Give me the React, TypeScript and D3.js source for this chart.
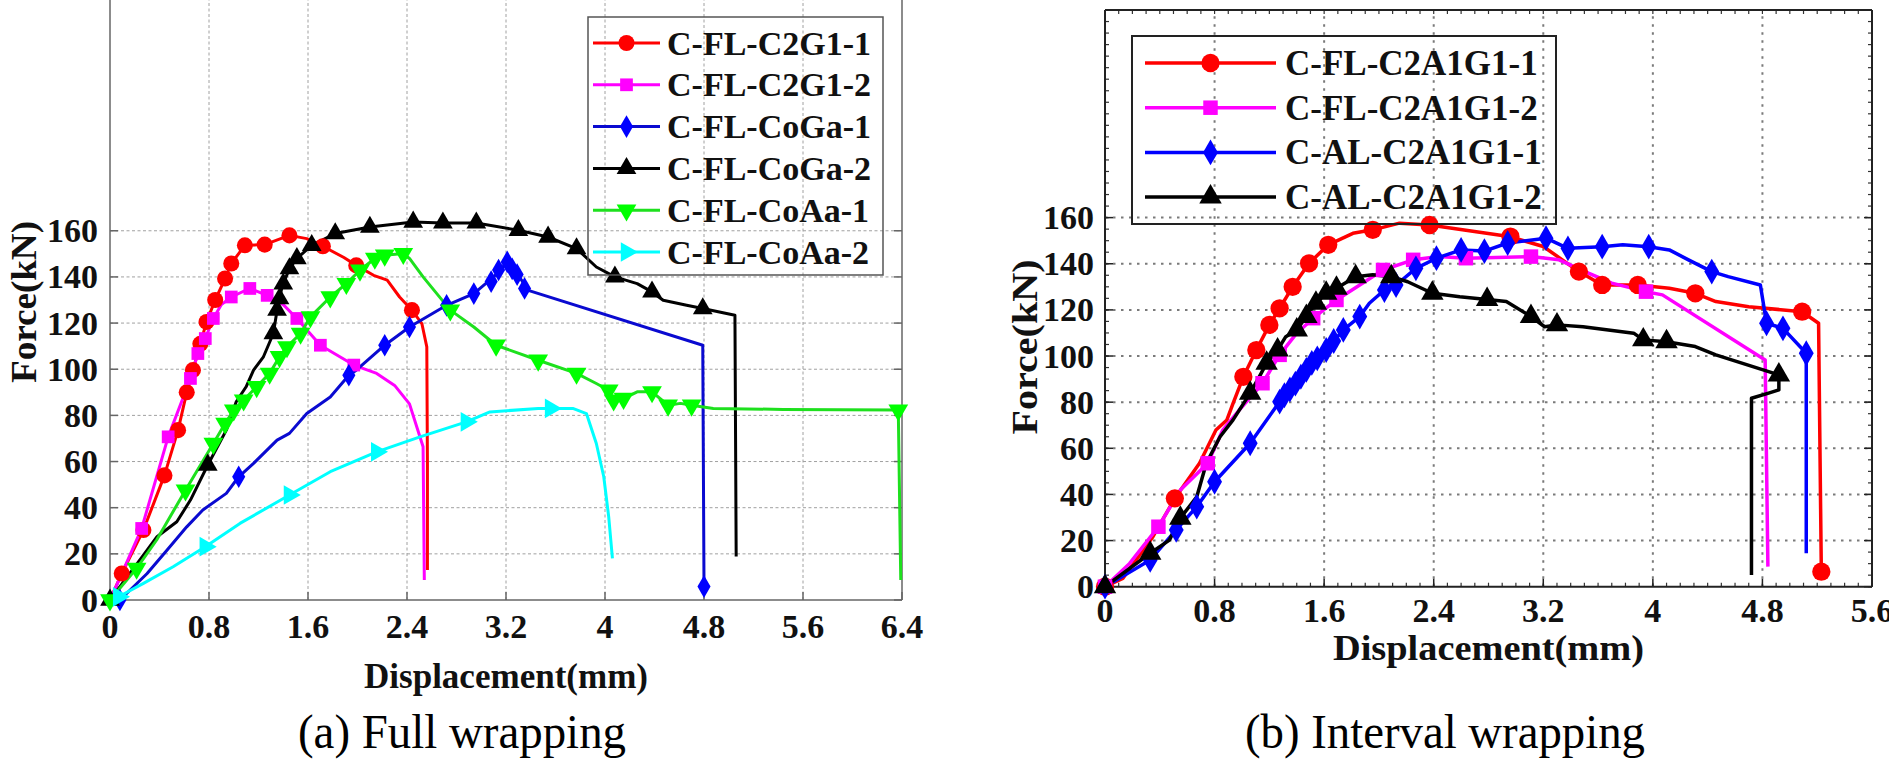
import React from 'react';
import * as d3 from 'd3';

type Pt = [number, number];

// ---------------- shared text ----------------
const xAxisLabel = 'Displacement(mm)';
const yAxisLabel = 'Force(kN)';
const yTickValues = [0, 20, 40, 60, 80, 100, 120, 140, 160];

// ---------------- panel (a) data ----------------
const titleA = '(a) Full wrapping';
const xTicksA = [0, 0.8, 1.6, 2.4, 3.2, 4, 4.8, 5.6, 6.4];
const namesA = ['C-FL-C2G1-1', 'C-FL-C2G1-2', 'C-FL-CoGa-1', 'C-FL-CoGa-2', 'C-FL-CoAa-1', 'C-FL-CoAa-2'];

const c2g1_1Line: Pt[] = [[0,0],[0.095,11.5],[0.27,30.3],[0.44,54],[0.55,73.6],[0.62,90],[0.67,99.6],[0.73,111],[0.78,120.5],[0.85,130],[0.93,139.3],[0.98,145.8],[1.09,153.7],[1.25,154],[1.45,158],[1.59,156.6],[1.72,153.3],[1.89,148.4],[1.99,145],[2.13,140.7],[2.24,138.6],[2.34,131.3],[2.44,125.6],[2.52,119.8],[2.56,109.7],[2.565,60],[2.565,13]];
const c2g1_1Marks: Pt[] = [[0.095,11.5],[0.27,30.3],[0.44,54],[0.55,73.6],[0.62,90],[0.67,99.6],[0.73,111],[0.78,120.5],[0.85,130],[0.93,139.3],[0.98,145.8],[1.09,153.7],[1.25,154],[1.45,158],[1.72,153.3],[1.99,145],[2.44,125.6]];

const c2g1_2Line: Pt[] = [[0,0],[0.1,12],[0.256,31],[0.47,70.7],[0.65,96],[0.71,106.8],[0.77,113.3],[0.835,122],[0.9,128],[0.98,131.3],[1.13,135],[1.27,132],[1.4,128],[1.51,122],[1.7,110.4],[1.97,101.8],[2.155,98.2],[2.3,93],[2.42,85],[2.53,66.4],[2.54,8.7]];
const c2g1_2Marks: Pt[] = [[0.256,31],[0.47,70.7],[0.65,96],[0.71,106.8],[0.77,113.3],[0.835,122],[0.98,131.3],[1.13,135],[1.27,132],[1.51,122],[1.7,110.4],[1.97,101.8]];

const coGa1Line: Pt[] = [[0.08,0],[0.3,11.5],[0.46,21.6],[0.62,31.7],[0.75,39],[0.94,46.2],[1.04,53.4],[1.16,59.2],[1.35,69.3],[1.45,72.2],[1.59,80.8],[1.78,88],[1.93,97.4],[1.99,99.6],[2.22,110.4],[2.42,118.3],[2.72,127.7],[2.94,132.8],[3.1,140],[3.21,146.5],[3.29,141.5],[3.38,134.2],[4.79,110.4],[4.8,5.8]];
const coGa1Marks: Pt[] = [[0.08,0],[1.04,53.4],[1.93,97.4],[2.22,110.4],[2.42,118.3],[2.72,127.7],[2.94,132.8],[3.08,138],[3.14,143],[3.21,146.5],[3.25,143.5],[3.29,141],[3.35,135],[4.8,5.8]];

const coGa2Line: Pt[] = [[0,0],[0.24,17.3],[0.38,27.4],[0.54,33.9],[0.65,43.3],[0.79,58.5],[0.94,73.6],[1.02,85.9],[1.1,92.4],[1.16,99.6],[1.24,105.4],[1.32,115.5],[1.35,125.6],[1.37,130.6],[1.39,135.7],[1.45,143.6],[1.51,148],[1.63,153.7],[1.82,158.8],[2.1,161.6],[2.45,163.8],[2.69,163.4],[2.96,163.4],[3.3,160.2],[3.54,157.3],[3.77,152.3],[3.93,144.3],[4.08,140],[4.26,137.1],[4.38,133.5],[4.47,129.9],[4.66,127.7],[4.79,126.3],[5.05,123.4],[5.06,18.8]];
const coGa2Marks: Pt[] = [[0,0],[0.79,58.5],[1.32,115.5],[1.35,125.6],[1.37,130.6],[1.4,137],[1.45,143.6],[1.51,148],[1.63,153.7],[1.82,158.8],[2.1,161.6],[2.45,163.8],[2.69,163.4],[2.96,163.4],[3.3,160.2],[3.54,157.3],[3.77,152.3],[4.08,140],[4.38,133.5],[4.79,126.3]];

const coAa1Line: Pt[] = [[0,0],[0.215,13.7],[0.377,26],[0.61,47.6],[0.835,67.8],[0.93,76.5],[1,82.3],[1.08,86.6],[1.185,92.4],[1.29,98.2],[1.37,105.4],[1.43,109.7],[1.54,115.5],[1.62,122.7],[1.78,131.3],[1.91,137.1],[2.02,142.9],[2.14,148],[2.22,149.4],[2.37,150.1],[2.42,148],[2.53,140],[2.75,125.6],[2.94,118.3],[3.12,110.4],[3.46,103.9],[3.77,98.2],[3.93,93.8],[4.03,90.9],[4.07,86.6],[4.15,87.3],[4.26,90.2],[4.38,90.2],[4.51,84.4],[4.61,85.2],[4.7,84.4],[4.875,83],[5.44,82.6],[6.37,82.3],[6.39,8.7]];
const coAa1Marks: Pt[] = [[0,0],[0.215,13.7],[0.61,47.6],[0.835,67.8],[0.93,76.5],[1,82.3],[1.08,86.6],[1.185,92.4],[1.29,98.2],[1.37,105.4],[1.43,109.7],[1.54,115.5],[1.62,122.7],[1.78,131.3],[1.91,137.1],[2.02,142.9],[2.14,148],[2.22,149.4],[2.37,150.1],[2.75,125.6],[3.12,110.4],[3.46,103.9],[3.77,98.2],[4.03,90.9],[4.07,86.6],[4.15,87.3],[4.38,90.2],[4.51,84.4],[4.7,84.4],[6.37,82.3]];

const coAa2Line: Pt[] = [[0,0],[0.07,1.4],[0.27,7.2],[0.51,14.4],[0.77,23.1],[1.05,33.2],[1.45,45.5],[1.78,55.6],[2.155,64.2],[2.505,70.7],[2.88,77.2],[3.07,81.5],[3.46,83],[3.56,83],[3.74,83],[3.85,80.8],[3.93,67.8],[3.99,53.4],[4.03,36],[4.06,18]];
const coAa2Marks: Pt[] = [[0.07,1.4],[0.77,23.1],[1.45,45.5],[2.155,64.2],[2.88,77.2],[3.56,83]];

// ---------------- panel (b) data ----------------
const titleB = '(b) Interval wrapping';
const xTicksB = [0, 0.8, 1.6, 2.4, 3.2, 4, 4.8, 5.6];
const namesB = ['C-FL-C2A1G1-1', 'C-FL-C2A1G1-2', 'C-AL-C2A1G1-1', 'C-AL-C2A1G1-2'];

const fl1Line: Pt[] = [[0,0],[0.13,3.6],[0.35,21.7],[0.51,38.3],[0.69,53.5],[0.81,67.9],[0.89,72.3],[0.935,79.5],[1.01,91],[1.105,102.6],[1.2,113.5],[1.275,120.7],[1.37,130],[1.49,140.2],[1.63,148.2],[1.81,153.2],[1.955,154.7],[2.15,157.6],[2.37,156.8],[2.95,151.8],[3.2,147.5],[3.46,136.6],[3.63,130.8],[3.89,130.8],[4.12,129.4],[4.31,127.2],[4.46,123.6],[4.7,121.4],[5.09,119.2],[5.21,114.2],[5.23,6.5]];
const fl1Marks: Pt[] = [[0,0],[0.51,38.3],[1.01,91],[1.105,102.6],[1.2,113.5],[1.275,120.7],[1.37,130],[1.49,140.2],[1.63,148.2],[1.955,154.7],[2.37,156.8],[2.96,151.8],[3.46,136.6],[3.63,130.8],[3.89,130.8],[4.31,127.2],[5.09,119.2],[5.23,6.5]];

const fl2Line: Pt[] = [[0,0],[0.18,10.1],[0.39,26],[0.55,41.9],[0.75,53.5],[0.86,67.9],[0.98,76.6],[1.15,88.2],[1.275,100.5],[1.4,109.9],[1.52,116.4],[1.69,124.3],[1.86,130.8],[2.03,137.3],[2.25,141.7],[2.44,143.1],[2.635,142.4],[3.11,143.1],[3.315,141.7],[3.53,135.9],[3.7,131.6],[3.95,127.9],[4.07,126.5],[4.82,98.3],[4.84,8.7]];
const fl2Marks: Pt[] = [[0,0],[0.39,26],[0.75,53.5],[1.15,88.2],[1.275,100.5],[1.52,116.4],[1.69,124.3],[2.03,137.3],[2.25,141.7],[2.635,142.4],[3.11,143.1],[3.95,127.9]];

const al1Line: Pt[] = [[0,0],[0.33,11.6],[0.52,24.6],[0.67,34.7],[0.8,45.5],[1.06,62.2],[1.275,80.2],[1.37,86.7],[1.49,95.4],[1.615,102.6],[1.74,111.3],[1.86,117.1],[1.93,122.9],[2.04,128.6],[2.125,130.8],[2.27,138],[2.42,142.4],[2.6,146],[2.77,145.5],[2.94,149],[3.22,151.1],[3.38,146.7],[3.63,147.4],[3.78,148.2],[3.97,147.4],[4.12,146],[4.26,141.7],[4.43,136.6],[4.55,134.4],[4.785,130.8],[4.83,114.2],[4.95,112],[5.12,101.2],[5.12,14.5]];
const al1Marks: Pt[] = [[0,0],[0.33,11.6],[0.52,24.6],[0.67,34.7],[0.8,45.5],[1.06,62.2],[1.275,80.2],[1.31,83],[1.35,85.5],[1.39,88],[1.43,91],[1.47,94],[1.51,97],[1.55,99],[1.615,102.6],[1.67,106.5],[1.74,111.3],[1.86,117.1],[2.04,128.6],[2.125,130.8],[2.27,138],[2.42,142.4],[2.6,146],[2.77,145.5],[2.94,149],[3.22,151.1],[3.38,146.7],[3.63,147.4],[3.97,147.4],[4.43,136.6],[4.83,114.2],[4.95,112],[5.12,101.2]];

const al2Line: Pt[] = [[0,0],[0.33,14.5],[0.47,20.2],[0.55,29.7],[0.67,39],[0.74,53.5],[0.84,65],[0.935,72.3],[1.06,83.9],[1.14,92.5],[1.18,96.9],[1.26,102.6],[1.32,108.4],[1.4,111.3],[1.47,117.1],[1.54,122.9],[1.615,127.2],[1.69,129.4],[1.83,134.4],[1.955,135.2],[2.09,134.4],[2.21,132.2],[2.39,127.2],[2.59,125.7],[2.79,124.5],[2.93,123.6],[3.11,117.1],[3.21,112.7],[3.3,113.5],[3.49,112.7],[3.86,109.9],[3.93,107],[4.1,106.2],[4.31,104.1],[4.46,100.5],[4.92,91.8],[4.92,85.3],[4.845,83.9],[4.72,81.7],[4.72,5.1]];
const al2Marks: Pt[] = [[0,0],[0.33,14.5],[0.55,29.7],[1.06,83.9],[1.18,96.9],[1.26,102.6],[1.4,111.3],[1.47,117.1],[1.54,122.9],[1.615,127.2],[1.69,129.4],[1.83,134.4],[2.09,134.4],[2.39,127.2],[2.79,124.5],[3.11,117.1],[3.3,113.5],[3.93,107],[4.1,106.2],[4.92,91.8]];

// ---------------- styling ----------------
const FONT = "'Liberation Serif','Times New Roman',Times,serif";

type Shape = 'circle' | 'square' | 'diamond' | 'up' | 'down' | 'right';
interface Series { name: string; color: string; lineColor?: string; shape: Shape; line: Pt[]; marks: Pt[]; }

const seriesA: Series[] = [
  { name: namesA[0], color: '#ff0000', shape: 'circle', line: c2g1_1Line, marks: c2g1_1Marks },
  { name: namesA[1], color: '#ff00ff', shape: 'square', line: c2g1_2Line, marks: c2g1_2Marks },
  { name: namesA[2], color: '#0000ff', lineColor: '#0a0ad0', shape: 'diamond', line: coGa1Line, marks: coGa1Marks },
  { name: namesA[3], color: '#000000', shape: 'up', line: coGa2Line, marks: coGa2Marks },
  { name: namesA[4], color: '#00ff00', lineColor: '#1ee01e', shape: 'down', line: coAa1Line, marks: coAa1Marks },
  { name: namesA[5], color: '#00ffff', shape: 'right', line: coAa2Line, marks: coAa2Marks },
];
const seriesB: Series[] = [
  { name: namesB[0], color: '#ff0000', shape: 'circle', line: fl1Line, marks: fl1Marks },
  { name: namesB[1], color: '#ff00ff', shape: 'square', line: fl2Line, marks: fl2Marks },
  { name: namesB[2], color: '#0000ff', shape: 'diamond', line: al1Line, marks: al1Marks },
  { name: namesB[3], color: '#000000', shape: 'up', line: al2Line, marks: al2Marks },
];

function symbolPath(shape: Shape, scale: number): { d: string; rot: number } {
  const s = scale;
  switch (shape) {
    case 'circle': return { d: d3.symbol().type(d3.symbolCircle).size(150 * s)()!, rot: 0 };
    case 'square': return { d: d3.symbol().type(d3.symbolSquare).size(120 * s)()!, rot: 0 };
    case 'diamond': return { d: d3.symbol().type(d3.symbolDiamond).size(110 * s)()!, rot: 0 };
    case 'up': return { d: d3.symbol().type(d3.symbolTriangle).size(125 * s)()!, rot: 0 };
    case 'down': return { d: d3.symbol().type(d3.symbolTriangle).size(125 * s)()!, rot: 180 };
    case 'right': return { d: d3.symbol().type(d3.symbolTriangle).size(125 * s)()!, rot: 90 };
  }
}

interface PanelCfg {
  left: number; right: number; top: number; bottom: number;
  xMax: number; yMax: number; xTicks: number[];
  series: Series[];
  dotted: boolean;
  lineWidth: number; markScale: number;
  tickFont: number; xTickBase: number; yTickRight: number;
  xLabelY: number; xLabelLen: number; xLabelFont: number;
  yLabelX: number; yLabelY: number; yLabelLen: number; yLabelFont: number;
  title: string; titleX: number; titleY: number; titleLen: number; titleFont: number;
  legend: { x0: number; y0: number; x1: number; y1: number; lx0: number; lx1: number; tx: number; row0: number; dy: number; font: number; stroke: string; sw: number };
  frameColor: string; frameWidth: number; drawTop: boolean;
}

function Panel({ c }: { c: PanelCfg }) {
  const x = d3.scaleLinear().domain([0, c.xMax]).range([c.left, c.right]);
  const y = d3.scaleLinear().domain([0, c.yMax]).range([c.bottom, c.top]);
  const line = d3.line<Pt>().x(d => x(d[0])).y(d => y(d[1]));
  const gridStroke = c.dotted ? '#7a7a7a' : '#a0a0a0';
  const gridDash = c.dotted ? '2.5,5.5' : '3,2.5';
  const gridW = c.dotted ? 2 : 1;
  const minorY = c.dotted ? d3.range(0, c.yMax + 0.01, 5) : [];
  const minorX = c.dotted ? d3.range(0, c.xMax + 0.001, 0.1) : [];
  return (
    <g>
      {c.xTicks.filter(v => v > 0 && v < c.xMax).map((v, i) => (
        <line key={'gx' + i} x1={x(v)} x2={x(v)} y1={c.bottom} y2={c.top} stroke={gridStroke} strokeWidth={gridW} strokeDasharray={gridDash} />
      ))}
      {yTickValues.filter(v => v > 0).map((v, i) => (
        <line key={'gy' + i} x1={c.left} x2={c.right} y1={y(v)} y2={y(v)} stroke={gridStroke} strokeWidth={gridW} strokeDasharray={gridDash} />
      ))}
      {minorY.map((v, i) => (
        <g key={'my' + i}>
          <line x1={c.left} x2={c.left + 4} y1={y(v)} y2={y(v)} stroke="#333" strokeWidth={1.2} />
          <line x1={c.right} x2={c.right - 4} y1={y(v)} y2={y(v)} stroke="#333" strokeWidth={1.2} />
        </g>
      ))}
      {minorX.map((v, i) => (
        <g key={'mx' + i}>
          <line x1={x(v)} x2={x(v)} y1={c.bottom} y2={c.bottom - 4} stroke="#333" strokeWidth={1.2} />
          <line x1={x(v)} x2={x(v)} y1={c.top} y2={c.top + 4} stroke="#333" strokeWidth={1.2} />
        </g>
      ))}
      {yTickValues.map((v, i) => (
        <g key={'ty' + i}>
          <line x1={c.left} x2={c.left + 8} y1={y(v)} y2={y(v)} stroke={c.frameColor} strokeWidth={1.5} />
          <line x1={c.right} x2={c.right - 8} y1={y(v)} y2={y(v)} stroke={c.frameColor} strokeWidth={1.5} />
        </g>
      ))}
      {c.xTicks.map((v, i) => (
        <line key={'tx' + i} x1={x(v)} x2={x(v)} y1={c.bottom} y2={c.bottom - 8} stroke={c.frameColor} strokeWidth={1.5} />
      ))}
      <line x1={c.left} x2={c.left} y1={c.top} y2={c.bottom} stroke={c.frameColor} strokeWidth={c.frameWidth} />
      <line x1={c.right} x2={c.right} y1={c.top} y2={c.bottom} stroke={c.frameColor} strokeWidth={c.frameWidth} />
      <line x1={c.left} x2={c.right} y1={c.bottom} y2={c.bottom} stroke={c.frameColor} strokeWidth={c.frameWidth} />
      {c.drawTop && <line x1={c.left} x2={c.right} y1={c.top} y2={c.top} stroke={c.frameColor} strokeWidth={c.frameWidth} />}
      {c.series.map((s, i) => (
        <path key={'l' + i} d={line(s.line)!} fill="none" stroke={s.lineColor || s.color} strokeWidth={c.lineWidth} strokeLinejoin="round" />
      ))}
      {c.series.map((s, i) => {
        const sym = symbolPath(s.shape, c.markScale);
        return (
          <g key={'m' + i} fill={s.color}>
            {s.marks.map((p, j) => (
              <path key={j} d={sym.d} transform={`translate(${x(p[0])},${y(p[1])}) rotate(${sym.rot})`} />
            ))}
          </g>
        );
      })}
      {yTickValues.map((v, i) => (
        <text key={'yl' + i} x={c.yTickRight} y={y(v) + c.tickFont * 0.34} textAnchor="end" fontFamily={FONT} fontWeight="bold" fontSize={c.tickFont} fill="#111">{String(v)}</text>
      ))}
      {c.xTicks.map((v, i) => (
        <text key={'xl' + i} x={x(v)} y={c.xTickBase} textAnchor="middle" fontFamily={FONT} fontWeight="bold" fontSize={c.tickFont} fill="#111">{String(v)}</text>
      ))}
      <text x={(c.left + c.right) / 2} y={c.xLabelY} textAnchor="middle" fontFamily={FONT} fontWeight="bold" fontSize={c.xLabelFont} textLength={c.xLabelLen} lengthAdjust="spacingAndGlyphs" fill="#111">{xAxisLabel}</text>
      <text transform={`translate(${c.yLabelX},${c.yLabelY}) rotate(-90)`} x={0} y={0} textAnchor="middle" dominantBaseline="central" fontFamily={FONT} fontWeight="bold" fontSize={c.yLabelFont} textLength={c.yLabelLen} lengthAdjust="spacingAndGlyphs" fill="#111">{yAxisLabel}</text>
      <rect x={c.legend.x0} y={c.legend.y0} width={c.legend.x1 - c.legend.x0} height={c.legend.y1 - c.legend.y0} fill="none" stroke={c.legend.stroke} strokeWidth={c.legend.sw} />
      {c.series.map((s, i) => {
        const ry = c.legend.row0 + i * c.legend.dy;
        const sym = symbolPath(s.shape, c.markScale);
        return (
          <g key={'lg' + i}>
            <line x1={c.legend.lx0} x2={c.legend.lx1} y1={ry} y2={ry} stroke={s.lineColor || s.color} strokeWidth={c.lineWidth} />
            <path d={sym.d} fill={s.color} transform={`translate(${(c.legend.lx0 + c.legend.lx1) / 2},${ry}) rotate(${sym.rot})`} />
            <text x={c.legend.tx} y={ry + c.legend.font * 0.34} fontFamily={FONT} fontWeight="bold" fontSize={c.legend.font} fill="#111">{s.name}</text>
          </g>
        );
      })}
      <text x={c.titleX} y={c.titleY} textAnchor="middle" fontFamily={FONT} fontSize={c.titleFont} textLength={c.titleLen} lengthAdjust="spacingAndGlyphs" fill="#000">{c.title}</text>
    </g>
  );
}

const panelA: PanelCfg = {
  left: 110, right: 902, top: 0, bottom: 600, xMax: 6.4, yMax: 260, xTicks: xTicksA,
  series: seriesA, dotted: false, lineWidth: 3, markScale: 1.35,
  tickFont: 34, xTickBase: 638, yTickRight: 98,
  xLabelY: 688, xLabelLen: 284, xLabelFont: 35,
  yLabelX: 24, yLabelY: 302, yLabelLen: 162, yLabelFont: 35,
  title: titleA, titleX: 462, titleY: 748, titleLen: 328, titleFont: 48,
  legend: { x0: 588, y0: 17, x1: 883, y1: 275, lx0: 593, lx1: 660, tx: 667, row0: 43, dy: 41.8, font: 34, stroke: '#555', sw: 1.5 },
  frameColor: '#666', frameWidth: 1.5, drawTop: false,
};

const panelB: PanelCfg = {
  left: 1105, right: 1872, top: 10, bottom: 586.7, xMax: 5.6, yMax: 250, xTicks: xTicksB,
  series: seriesB, dotted: true, lineWidth: 3.5, markScale: 1.75,
  tickFont: 34, xTickBase: 622, yTickRight: 1094,
  xLabelY: 660, xLabelLen: 311, xLabelFont: 35,
  yLabelX: 1025, yLabelY: 347, yLabelLen: 175, yLabelFont: 36,
  title: titleB, titleX: 1445, titleY: 748, titleLen: 400, titleFont: 48,
  legend: { x0: 1132, y0: 36, x1: 1556, y1: 224, lx0: 1145, lx1: 1276, tx: 1285, row0: 63, dy: 44.7, font: 35, stroke: '#222', sw: 2 },
  frameColor: '#222', frameWidth: 2, drawTop: true,
};

export default function App() {
  return (
    <svg width={1889} height={778} viewBox="0 0 1889 778" style={{ position: 'absolute', left: 0, top: 0, background: '#fff' }}>
      <rect x={0} y={0} width={1889} height={778} fill="#fff" />
      <Panel c={panelA} />
      <Panel c={panelB} />
    </svg>
  );
}
